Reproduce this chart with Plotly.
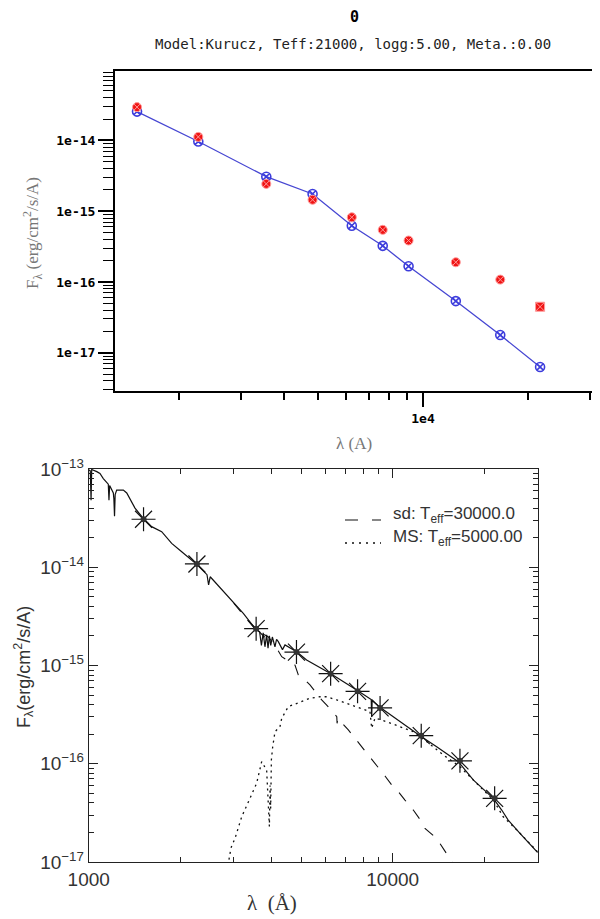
import plotly.graph_objects as go

# photometric points (band wavelengths, Angstrom)
band_wl = [1515, 2270, 3555, 4825, 6250, 7665, 9090, 12415, 16645, 21650]

# top panel: model fit (blue) and observed (red)
fit_flux = [2.55e-14, 9.65e-15, 3.07e-15, 1.75e-15, 6.24e-16, 3.24e-16,
            1.67e-16, 5.37e-17, 1.78e-17, 6.3e-18]
obs_flux_top = [2.95e-14, 1.12e-14, 2.43e-15, 1.45e-15, 8.2e-16, 5.45e-16,
                3.85e-16, 1.9e-16, 1.08e-16, 4.47e-17]
obs_symbols = ["circle-x"] * 9 + ["square-x"]

# bottom panel: observed fluxes (asterisks)
obs_flux_bot = [3.08e-14, 1.08e-14, 2.37e-15, 1.37e-15, 8.26e-16, 5.46e-16,
                3.7e-16, 1.93e-16, 1.07e-16, 4.45e-17]

# combined spectrum (solid)
total_wl = [1000, 1012, 1018, 1023, 1028, 1063, 1089, 1117, 1146, 1160, 1166,
            1172, 1205, 1210, 1216, 1222, 1236, 1300, 1334, 1385, 1420, 1512,
            1611, 1738, 1875, 2023, 2266, 2450, 2480, 2510, 3226, 3524, 3650,
            3700, 3750, 3800, 3850, 3890, 3930, 3970, 4020, 4100, 4150, 4205,
            4340, 4424, 4831, 5210, 6220, 7613, 8500, 8530, 8560, 9080, 10040,
            10705, 12300, 13955, 16440, 18410, 21430, 22840, 23990, 26230, 30000]
total_flux = [9.8e-14, 9.6e-14, 4.8e-14, 1.0e-13, 9.8e-14, 9.4e-14, 9.0e-14,
              8.0e-14, 7.4e-14, 7.0e-14, 4.8e-14, 6.8e-14, 5.7e-14, 5.0e-14,
              3.3e-14, 5.5e-14, 6.1e-14, 6.1e-14, 5.7e-14, 4.65e-14, 4.0e-14,
              3.15e-14, 2.59e-14, 2.30e-14, 1.75e-14, 1.44e-14, 1.07e-14,
              8.4e-15, 6.6e-15, 8.0e-15, 3.40e-15, 2.39e-15, 2.2e-15, 1.6e-15,
              2.15e-15, 1.55e-15, 2.05e-15, 1.5e-15, 2.0e-15, 1.6e-15, 1.95e-15,
              1.55e-15, 1.85e-15, 1.75e-15, 1.45e-15, 1.62e-15, 1.38e-15,
              1.14e-15, 8.33e-16, 5.64e-16, 4.5e-16, 3.0e-16, 4.4e-16, 3.76e-16,
              3.01e-16, 2.58e-16, 1.93e-16, 1.49e-16, 1.05e-16, 6.84e-17,
              4.45e-17, 3.38e-17, 2.67e-17, 1.96e-17, 1.25e-17]

# hot subdwarf component (dashed)
sd_wl = [3000, 3524, 3900, 4100, 4315, 4771, 4893, 5081, 5345, 5842, 6067,
         6548, 6563, 6600, 7147, 7516, 8110, 8635, 8858, 9435, 9925, 10433,
         10976, 11690, 12454, 12772, 13957, 14670, 15670, 17000]
sd_flux = [4.3e-15, 2.35e-15, 1.95e-15, 1.6e-15, 1.23e-15, 1.01e-15, 8.0e-16,
           7.4e-16, 6.34e-16, 4.46e-16, 3.96e-16, 3.01e-16, 2.58e-16, 2.9e-16,
           2.21e-16, 1.82e-16, 1.33e-16, 1.05e-16, 9.7e-17, 7.5e-17, 6.08e-17,
           5.2e-17, 4.27e-17, 3.38e-17, 2.57e-17, 2.2e-17, 1.74e-17, 1.38e-17,
           1.0e-17, 7.5e-18]

# main-sequence component (dotted)
ms_wl = [2850, 2938, 3029, 3187, 3393, 3568, 3707, 3850, 3930, 3950, 3968,
         3990, 4030, 4101, 4257, 4315, 4535, 4955, 5345, 5766, 6068, 6547,
         7063, 7805, 8421, 8530, 8750, 9550, 10567, 11690, 12937, 14670,
         16650, 18890, 21430, 23100, 25600, 30000]
ms_flux = [8e-18, 1.39e-17, 1.74e-17, 2.89e-17, 4.45e-17, 6.32e-17, 1.05e-16,
           8.6e-17, 2.3e-17, 6.0e-17, 3.5e-17, 1.1e-16, 1.49e-16, 2.12e-16,
           2.38e-16, 2.9e-16, 3.81e-16, 4.28e-16, 4.64e-16, 4.81e-16, 4.81e-16,
           4.46e-16, 4.12e-16, 3.66e-16, 3.39e-16, 2.3e-16, 2.92e-16, 2.68e-16,
           2.38e-16, 2.12e-16, 1.68e-16, 1.23e-16, 9.33e-17, 6.33e-17,
           4.28e-17, 2.89e-17, 2.12e-17, 1.27e-17]

legend_labels = ["sd: T<sub>eff</sub>=30000.0", "MS: T<sub>eff</sub>=5000.00"]

top_yticks = [1e-17, 1e-16, 1e-15, 1e-14]
top_yticktext = ["1e-17", "1e-16", "1e-15", "1e-14"]
bot_yticks = [1e-17, 1e-16, 1e-15, 1e-14, 1e-13]
bot_yticktext = ["10<sup>\u221217</sup>", "10<sup>\u221216</sup>", "10<sup>\u221215</sup>",
                 "10<sup>\u221214</sup>", "10<sup>\u221213</sup>"]

W, H = 600, 919
OFF = 8  # page body margin shifts the figure by 8px
def px(x): return (x - OFF) / W
def py(y): return 1 - (y - OFF) / H

minor_x = [m * 10 ** e for e in (3, 4) for m in range(2, 10)]
minor_y = [m * 10.0 ** e for e in range(-19, -12) for m in range(2, 10)]

fig = go.Figure()

# --- top panel ---
fig.add_trace(go.Scatter(
    x=band_wl, y=fit_flux, mode="lines+markers", xaxis="x", yaxis="y",
    line=dict(color="#4646d2", width=1.3),
    marker=dict(symbol="circle-x-open", size=9, color="#3c3cdc", line=dict(width=1.6)),
    showlegend=False))
fig.add_trace(go.Scatter(
    x=band_wl, y=obs_flux_top, mode="markers", xaxis="x", yaxis="y",
    marker=dict(symbol=obs_symbols, size=9, color="#f01414",
                line=dict(color="#ff9a9a", width=1)),
    showlegend=False))

# --- bottom panel ---
fig.add_trace(go.Scatter(
    x=total_wl, y=total_flux, mode="lines", xaxis="x2", yaxis="y2",
    line=dict(color="#111111", width=1.2), showlegend=False))
fig.add_trace(go.Scatter(
    x=sd_wl, y=sd_flux, mode="lines", xaxis="x2", yaxis="y2",
    line=dict(color="#111111", width=1.1, dash="11px,11px"), showlegend=False))
fig.add_trace(go.Scatter(
    x=ms_wl, y=ms_flux, mode="lines", xaxis="x2", yaxis="y2",
    line=dict(color="#111111", width=1.3, dash="2px,4px"), showlegend=False))
fig.add_trace(go.Scatter(
    x=band_wl, y=obs_flux_bot, mode="markers", xaxis="x2", yaxis="y2",
    marker=dict(symbol="asterisk-open", size=20, color="#111111", line=dict(width=1.2, color="#111111")),
    showlegend=False))
fig.add_trace(go.Scatter(
    x=band_wl, y=obs_flux_bot, mode="markers", xaxis="x2", yaxis="y2",
    marker=dict(symbol="circle", size=6, color="#333333"),
    showlegend=False))

mono = "DejaVu Sans Mono"
sans = "Liberation Sans"
serif = "Liberation Serif"

fig.update_layout(
    width=W, height=H,
    margin=dict(l=0, r=0, t=0, b=0, pad=0, autoexpand=False),
    paper_bgcolor="white", plot_bgcolor="white",
    showlegend=False,
    xaxis=dict(type="log", domain=[px(115), px(595)], anchor="y", automargin=False,
               range=[3.1173, 4.4928], showgrid=False, zeroline=False,
               showline=True, linecolor="black", linewidth=2, mirror=True,
               tickvals=[10000], ticktext=["1e4"], ticks="outside", ticklen=14,
               tickcolor="black", tickwidth=1.5,
               tickfont=dict(family=mono, size=13, color="black", weight="bold"),
               minor=dict(tickvals=minor_x, ticks="outside", ticklen=7,
                          tickcolor="black", tickwidth=1.5)),
    yaxis=dict(type="log", domain=[py(391), py(71)], anchor="x", automargin=False,
               range=[-17.54, -13.02], showgrid=False, zeroline=False,
               showline=True, linecolor="black", linewidth=2, mirror=True,
               tickvals=top_yticks, ticktext=top_yticktext, ticks="outside",
               ticklen=15, tickcolor="black", tickwidth=1.5,
               tickfont=dict(family=mono, size=13, color="black", weight="bold"),
               minor=dict(tickvals=minor_y, ticks="outside", ticklen=10,
                          tickcolor="black", tickwidth=1.2)),
    xaxis2=dict(type="log", domain=[px(88.7), px(537.7)], anchor="y2", automargin=False,
                range=[3, 4.4771], showgrid=False, zeroline=False,
                showline=True, linecolor="#222222", linewidth=1, mirror="allticks",
                tickvals=[1000, 10000], ticktext=["1000", "10000"],
                ticks="inside", ticklen=9, tickcolor="#222222",
                tickfont=dict(family=sans, size=19, color="#333333"),
                minor=dict(tickvals=minor_x, ticks="inside", ticklen=5,
                           tickcolor="#222222")),
    yaxis2=dict(type="log", domain=[py(862), py(469)], anchor="x2", automargin=False,
                range=[-17, -13], showgrid=False, zeroline=False,
                showline=True, linecolor="#222222", linewidth=1, mirror="allticks",
                tickvals=bot_yticks, ticktext=bot_yticktext,
                ticks="inside", ticklen=9, tickcolor="#222222",
                tickfont=dict(family=sans, size=19, color="#333333"),
                minor=dict(tickvals=minor_y, ticks="inside", ticklen=5,
                           tickcolor="#222222")),
)

annots = [
    dict(text="0", x=px(354), y=py(17), font=dict(family=mono, size=15, color="black", weight="bold")),
    dict(text="Model:Kurucz, Teff:21000, logg:5.00, Meta.:0.00", x=px(353), y=py(44),
         font=dict(family=mono, size=14, color="#222222")),
    dict(text="F<sub>\u03bb</sub> (erg/cm<sup>2</sup>/s/A)", x=px(32), y=py(233), textangle=-90,
         font=dict(family=serif, size=17, color="#777777")),
    dict(text="\u03bb (A)", x=px(354), y=py(444), font=dict(family=serif, size=17, color="#777777")),
    dict(text="F<sub>\u03bb</sub>(erg/cm<sup>2</sup>/s/A)", x=px(23), y=py(667), textangle=-90,
         font=dict(family=sans, size=18, color="#333333")),
    dict(text="\u03bb  (\u00c5)", x=px(272), y=py(903), font=dict(family=serif, size=21, color="#333333")),
]
for a in annots:
    fig.add_annotation(xref="paper", yref="paper", showarrow=False,
                       xanchor="center", yanchor="middle", **a)

# legend drawn by hand: key line + label
legend_rows = [(520, "13px,14px", 1.1), (543, "2px,5px", 1.3)]
for (ky, dash, lw), label in zip(legend_rows, legend_labels):
    fig.add_shape(type="line", xref="paper", yref="paper",
                  x0=px(345), x1=px(381), y0=py(ky), y1=py(ky),
                  line=dict(color="#111111", width=lw, dash=dash))
    fig.add_annotation(xref="paper", yref="paper", showarrow=False,
                       x=px(391), y=py(ky - 5), xanchor="left", yanchor="middle",
                       text=label, font=dict(family=sans, size=17, color="#333333"))

fig.write_html("out.html")
